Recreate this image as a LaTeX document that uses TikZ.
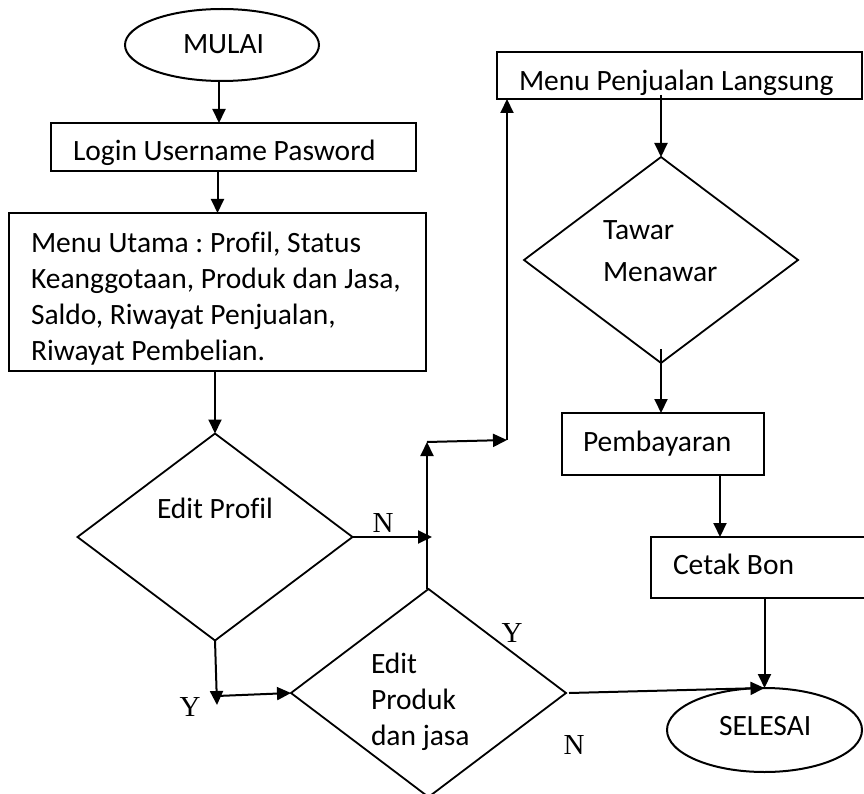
\documentclass[tikz,border=0pt]{standalone}
\usepackage{fontspec}
\setmainfont[Ligatures=NoCommon]{Carlito}
\newfontfamily\lblfont{Liberation Serif}
\usetikzlibrary{shapes.geometric,arrows.meta,calc}
\frenchspacing
\begin{document}
\begin{tikzpicture}[x=1pt,y=-1pt,
  every node/.style={inner sep=0pt, outer sep=0pt},
  box/.style={draw, line width=2pt, rectangle},
  oval/.style={draw, line width=2pt, ellipse},
  dec/.style={draw, line width=1.8pt, diamond},
  txt/.style={anchor=base west, font=\fontsize{29.5}{36}\selectfont},
  lbl/.style={font=\lblfont\fontsize{29}{32}\selectfont},
  arr/.style={draw, line width=2pt, -{Triangle[length=14pt,width=13pt]}}]
\useasboundingbox (0,0) rectangle (864,794);
\fill[white] (0,0) rectangle (864,794);
% shapes
\node[oval, minimum width=194pt, minimum height=72pt] (mulai) at (222,45) {};
\node[box, minimum width=365pt, minimum height=48pt] (login) at (233.5,147) {};
\node[box, minimum width=417pt, minimum height=158pt] (menu) at (217.5,292) {};
\node[dec, minimum width=275pt, minimum height=207pt] (editprofil) at (215,537) {};
\node[dec, minimum width=275pt, minimum height=208pt] (editproduk) at (428.5,693) {};
\node[box, minimum width=365pt, minimum height=47pt] (penj) at (679.5,75.5) {};
\node[dec, minimum width=274pt, minimum height=206pt] (tawar) at (661,260) {};
\node[box, minimum width=202pt, minimum height=62pt] (bayar) at (663,444) {};
\node[box, minimum width=218pt, minimum height=61pt] (cetak) at (760,567.5) {};
\node[oval, minimum width=195pt, minimum height=84pt] (selesai) at (764.5,730) {};
% texts
\node[txt] (tmulai) at (183,54) {MULAI};
\node[txt] (tlogin) at (73,161) {Login Username Pasword};
\node[txt] (tmenu) at (31,252) {\begin{tabular}[t]{@{}l@{}}Menu Utama : Profil, Status\\ Keanggotaan, Produk dan Jasa,\\ Saldo, Riwayat Penjualan,\\ Riwayat Pembelian.\end{tabular}};
\node[txt] (tprofil) at (157,518) {Edit Profil};
\node[txt] (tproduk) at (371,673) {\begin{tabular}[t]{@{}l@{}}Edit\\ Produk\\ dan jasa\end{tabular}};
\node[txt] (tpenj) at (519,91) {Menu Penjualan Langsung};
\node[txt] (ttawar) at (603,240) {\begin{tabular}[t]{@{}l@{}}Tawar\\[6pt] Menawar\end{tabular}};
\node[txt] (tbayar) at (583,451) {Pembayaran};
\node[txt] (tcetak) at (673,574) {Cetak Bon};
\node[txt] (tselesai) at (719,735) {SELESAI};
% labels
\node[lbl] (lN1) at (383,523) {N};
\node[lbl] (lY1) at (190,707) {Y};
\node[lbl] (lY2) at (512,633) {Y};
\node[lbl] (lN2) at (574,745) {N};
% junction coordinates
\coordinate (j1) at (427,442);
\coordinate (j2) at (507,440);
\coordinate (j3) at (217,705);
\coordinate (j4) at (217,696);
% connectors
\draw[arr] ([xshift=-3pt]mulai.south) -- ([xshift=-3pt]mulai.south |- login.north);
\draw[arr] ([xshift=-16pt]login.south) -- ([xshift=-16pt]login.south |- menu.north);
\draw[arr] (menu.south -| editprofil.north) -- (editprofil.north);
\draw[arr] (editprofil.east) -- ([xshift=5pt]editprofil.east -| j1);
\draw[arr] (editproduk.north -| j1) -- (j1);
\draw[arr] (j1) -- (j2);
\draw[arr] (j2) -- (j2 |- penj.south);
\draw[arr] ([yshift=4pt]penj.south -| tawar.north) -- (tawar.north);
\draw[arr] ([yshift=14pt]tawar.south) -- (tawar.south |- bayar.north);
\draw[arr] ([xshift=57pt]bayar.south) -- ([xshift=57pt]bayar.south |- cetak.north);
\draw[arr] (cetak.south -| selesai.north) -- (selesai.north);
\draw[arr] (editprofil.south) -- (j3);
\draw[arr] (j4) -- (editproduk.west);
\draw[arr] ([xshift=3pt]editproduk.east) -- (selesai.north);
\end{tikzpicture}
\end{document}
